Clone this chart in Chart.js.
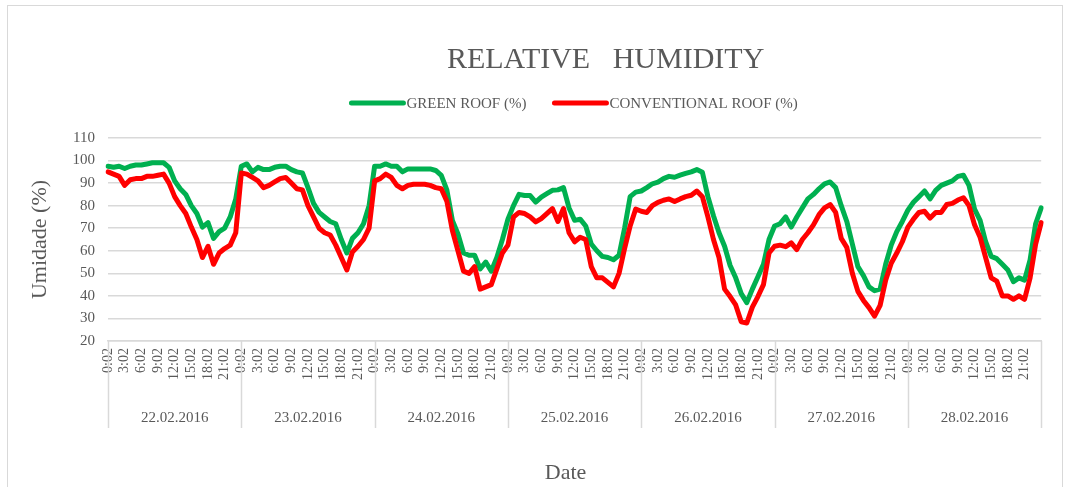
<!DOCTYPE html>
<html>
<head>
<meta charset="utf-8">
<title>Relative Humidity</title>
<script src="https://cdn.jsdelivr.net/npm/chart.js@4.4.0/dist/chart.umd.min.js"></script>
<style>
  html, body { margin: 0; padding: 0; background: #ffffff; }
</style>
</head>
<body>
<canvas id="grafica" width="1065" height="487"></canvas>
<script>
// dias medidos y etiquetas de hora (cada 3 h)
const dias = ['22.02.2016', '23.02.2016', '24.02.2016', '25.02.2016', '26.02.2016', '27.02.2016', '28.02.2016'];
const horas = ['0:02', '3:02', '6:02', '9:02', '12:02', '15:02', '18:02', '21:02'];

// lecturas horarias (%), 24 por dia + cierre del ultimo dia
const greenRoof = [
  97.5, 97, 97.5, 96.5, 97.5, 98, 98, 98.5, 99, 99, 99, 97, 91, 87.5, 85, 80, 76.5, 70.5, 72.5, 65.5, 68.5, 70, 75, 83,
  97.5, 98.5, 95, 97, 96, 96, 97, 97.5, 97.5, 96, 95, 94.5, 88, 81, 77, 75, 73, 72, 65, 59, 65.5, 68, 72, 80,
  97.5, 97.5, 98.5, 97.5, 97.5, 95, 96.3, 96.3, 96.3, 96.3, 96.3, 95.6, 93.4, 87, 73.5, 67.5, 59, 58, 58, 52, 55, 51, 57, 65,
  74, 80, 85, 84.5, 84.5, 81.6, 83.8, 85.3, 86.8, 87, 88, 79, 73.5, 74, 71, 63, 60, 57.5, 57, 56, 58, 70, 84, 86,
  86.5, 88, 89.7, 90.4, 92, 93, 92.6, 93.5, 94.3, 95, 96, 94.8, 84, 75.5, 68, 62, 53.5, 48, 41, 37, 43, 48.5, 54, 65,
  71, 72, 75, 70.5, 75, 79, 83, 85, 87.5, 89.7, 90.5, 88, 80, 73, 63, 53, 49, 44, 42.3, 43, 54, 62.5, 68.5, 73,
  78, 81.5, 84, 86.5, 83, 86.8, 89, 90, 91, 93, 93.5, 89, 78.5, 73.5, 64, 57.5, 56.5, 54, 51.5, 46.3, 48, 47, 56, 72,
  79
];
const conventionalRoof = [
  95, 94, 93, 89, 91.5, 92, 92, 93, 93, 93.5, 94, 90, 84, 80, 76.5, 70.5, 65, 57, 62, 54, 59, 61, 62.5, 68,
  94.5, 94, 92.5, 91, 88, 89, 90.5, 92, 92.5, 90, 87.5, 87, 80, 75, 70, 68, 67, 62.5, 57, 51.5, 59.5, 62, 65, 70,
  91, 92, 94, 92.5, 89, 87.5, 89, 89.5, 89.5, 89.5, 89, 88, 87.5, 82, 69, 60, 51, 50, 53, 43, 44, 45, 52, 59,
  62.5, 75, 77, 76.5, 75, 72.8, 74.3, 76.5, 78.7, 73, 78.7, 68, 64, 66, 65, 53, 48, 48, 46, 44, 50, 61, 71, 78.5,
  77.5, 77, 80, 81.5, 82.4, 83, 81.8, 83, 84, 84.6, 86.5, 84, 75, 65, 57, 43, 39.7, 36, 28.5, 28, 35, 39.7, 45, 59,
  62, 62.5, 61.8, 63.5, 60.5, 65, 68, 71.5, 76, 79, 80.5, 77, 65.5, 61.5, 50, 42, 38, 34.8, 31, 35.8, 47, 54.5, 59, 64,
  70.5, 74, 77, 77.5, 74.5, 77, 77, 80.5, 81, 82.5, 83.5, 80, 71.5, 66, 57, 48, 46.5, 40, 40, 38.5, 40, 38.5, 48, 63,
  72.5
];

const FUENTE = '"Liberation Serif", "Times New Roman", serif';
const GRIS_TEXTO = '#595959';
const GRIS_LINEA = '#d9d9d9';

// etiquetas del eje: una por hora, solo se muestran las de cada 3 h
const etiquetas = [];
dias.forEach(() => {
  for (let h = 0; h < 24; h++) etiquetas.push(h % 3 === 0 ? horas[h / 3] : '');
});
etiquetas.push('');

// titulo, leyenda, fila de fechas y marco
const decorado = {
  id: 'decorado',
  afterDraw(chart) {
    const ctx = chart.ctx;
    const area = chart.chartArea;
    const x = chart.scales.x;
    const cx = (area.left + area.right) / 2;
    ctx.save();

    // marco
    ctx.strokeStyle = GRIS_LINEA;
    ctx.lineWidth = 1;
    ctx.strokeRect(7.5, 5.5, chart.width - 10, chart.height + 10);

    // titulo
    ctx.fillStyle = GRIS_TEXTO;
    ctx.font = '30px ' + FUENTE;
    ctx.textAlign = 'center';
    ctx.textBaseline = 'middle';
    ctx.fillText('RELATIVE   HUMIDITY', cx + 31, 60);

    // leyenda
    ctx.font = '15px ' + FUENTE;
    const items = chart.data.datasets.map(d => ({ label: d.label, color: d.borderColor }));
    const seg = 52, gap = 3, sep = 28;
    let total = 0;
    items.forEach((it, i) => { total += seg + gap + ctx.measureText(it.label).width + (i ? sep : 0); });
    let lx = cx - total / 2;
    const ly = 103;
    ctx.textAlign = 'left';
    items.forEach(it => {
      ctx.strokeStyle = it.color;
      ctx.lineWidth = 5;
      ctx.lineCap = 'round';
      ctx.beginPath();
      ctx.moveTo(lx, ly);
      ctx.lineTo(lx + seg, ly);
      ctx.stroke();
      lx += seg + gap;
      ctx.fillText(it.label, lx, ly + 1);
      lx += ctx.measureText(it.label).width + sep;
    });

    // separadores y fechas bajo el eje
    ctx.strokeStyle = GRIS_LINEA;
    ctx.lineWidth = 1.5;
    ctx.lineCap = 'butt';
    ctx.font = '15px ' + FUENTE;
    ctx.textAlign = 'center';
    for (let i = 0; i <= dias.length; i++) {
      const px = Math.round(x.getPixelForValue(i * 24)) + 0.5;
      ctx.beginPath();
      ctx.moveTo(px, area.bottom);
      ctx.lineTo(px, 428);
      ctx.stroke();
    }
    dias.forEach((d, i) => {
      const x0 = x.getPixelForValue(i * 24);
      const x1 = x.getPixelForValue((i + 1) * 24);
      ctx.fillText(d, (x0 + x1) / 2, 418);
    });

    // titulo del eje x
    ctx.font = '22px ' + FUENTE;
    ctx.fillText('Date', cx - 9, 473);
    ctx.restore();
  }
};

const grafica = document.getElementById('grafica');
new Chart(grafica, {
  type: 'line',
  data: {
    labels: etiquetas,
    datasets: [{
      label: 'GREEN ROOF (%)',
      data: greenRoof,
      borderColor: '#00b050',
      backgroundColor: '#00b050',
      borderWidth: 5,
      pointRadius: 0,
      tension: 0,
      borderJoinStyle: 'round',
      borderCapStyle: 'round',
      order: 2
    }, {
      label: 'CONVENTIONAL ROOF (%)',
      data: conventionalRoof,
      borderColor: '#ff0000',
      backgroundColor: '#ff0000',
      borderWidth: 5,
      pointRadius: 0,
      tension: 0,
      borderJoinStyle: 'round',
      borderCapStyle: 'round',
      order: 1
    }]
  },
  options: {
    responsive: false,
    animation: false,
    devicePixelRatio: 1,
    layout: { padding: { top: 138, right: 19, bottom: 0, left: 0 } },
    plugins: {
      legend: { display: false },
      title: { display: false },
      tooltip: { enabled: false }
    },
    scales: {
      x: {
        type: 'category',
        offset: false,
        grid: { display: false, drawTicks: false },
        border: { display: true, color: GRIS_LINEA, width: 1.5 },
        ticks: {
          autoSkip: false,
          minRotation: 90,
          maxRotation: 90,
          padding: 7,
          color: GRIS_TEXTO,
          font: { family: FUENTE, size: 14 },
          callback: function (value, index) { return etiquetas[index]; }
        },
        afterFit: function (scale) { scale.height = 146; }
      },
      y: {
        min: 20,
        max: 110,
        grid: { color: GRIS_LINEA, lineWidth: 1.5, drawTicks: false },
        border: { display: false },
        ticks: {
          stepSize: 10,
          padding: 13,
          color: GRIS_TEXTO,
          font: { family: FUENTE, size: 15 }
        },
        title: {
          display: true,
          text: 'Umidade (%)',
          color: GRIS_TEXTO,
          font: { family: FUENTE, size: 22 },
          padding: { top: 27, bottom: 0 }
        },
        afterFit: function (scale) { scale.width = 108; }
      }
    }
  },
  plugins: [decorado]
});
</script>
</body>
</html>
